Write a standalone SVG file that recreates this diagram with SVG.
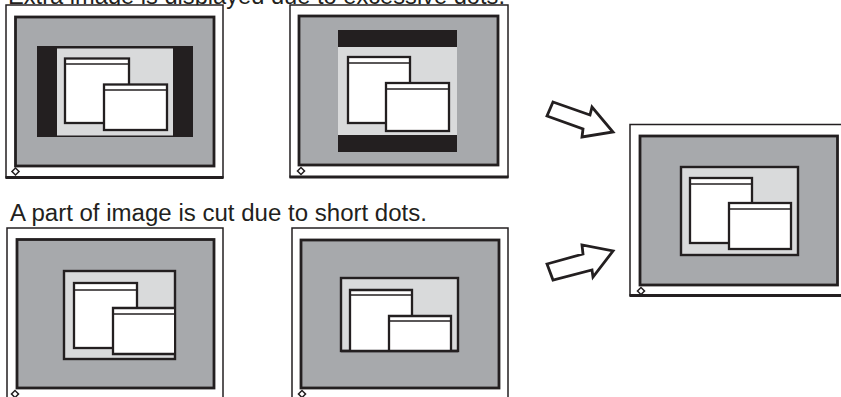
<svg xmlns="http://www.w3.org/2000/svg" width="841" height="397" viewBox="0 0 841 397">
<style>
.frame{fill:#fff;stroke:#231f20;stroke-width:1.5}
.base{stroke:#231f20;stroke-width:2.8;fill:none}
.bezel{fill:#a7a9ac;stroke:#231f20;stroke-width:2.8}
.bar{fill:#231f20}
.scr{fill:#d9dadb}
.scrb{fill:#d9dadb;stroke:#231f20;stroke-width:2.4}
.win{fill:#fff;stroke:#231f20;stroke-width:2.3}
.ln{stroke:#231f20;stroke-width:1.7;fill:none}
.dia{fill:#fff;stroke:#231f20;stroke-width:1.5}
.arr{fill:#fff;stroke:#231f20;stroke-width:2.8;stroke-linejoin:miter}
text{font-family:"Liberation Sans",Arial,sans-serif;font-size:23px;fill:#231f20}
</style>
<rect width="841" height="397" fill="#fff"/>
<text x="8" y="3.5" textLength="497" lengthAdjust="spacingAndGlyphs">Extra image is displayed due to excessive dots.</text>
<text x="10" y="220.5" textLength="417" lengthAdjust="spacingAndGlyphs">A part of image is cut due to short dots.</text>

<g id="monitor1">
<rect class="frame" x="6" y="5" width="217" height="172.5"/>
<line class="base" x1="5.5" y1="177.5" x2="223.5" y2="177.5"/>
<rect class="bezel" x="15.5" y="17" width="198.5" height="149"/>
<rect class="bar" x="37" y="46" width="156" height="91"/>
<rect class="scr" x="57" y="48.5" width="116" height="87"/>
<rect class="win" x="65" y="58.5" width="64" height="64.5"/>
<line class="ln" x1="65" y1="64" x2="129" y2="64"/>
<rect class="win" x="104" y="84.5" width="63" height="45.5"/>
<line class="ln" x1="104" y1="90" x2="167" y2="90"/>
<rect class="dia" x="13" y="169" width="5" height="5" transform="rotate(45 15.5 171.5)"/>
</g>

<g id="monitor2">
<rect class="frame" x="290" y="5" width="218" height="172"/>
<line class="base" x1="289.5" y1="177" x2="508.5" y2="177"/>
<rect class="bezel" x="299" y="16" width="199" height="149"/>
<rect class="bar" x="338" y="30" width="119" height="122"/>
<rect class="scr" x="338" y="47" width="119" height="88"/>
<rect class="win" x="348" y="57" width="62" height="66"/>
<line class="ln" x1="348" y1="63" x2="410" y2="63"/>
<rect class="win" x="386" y="83" width="63" height="48"/>
<line class="ln" x1="386" y1="89" x2="449" y2="89"/>
<rect class="dia" x="298.5" y="168.5" width="5" height="5" transform="rotate(45 301 171)"/>
</g>

<g id="monitor3">
<rect class="frame" x="7" y="228" width="216" height="200"/>
<rect class="bezel" x="17" y="239.5" width="197" height="148.5"/>
<rect class="scrb" x="64" y="271" width="111" height="88"/>
<rect class="win" x="74" y="283" width="63" height="65"/>
<line class="ln" x1="74" y1="290" x2="137" y2="290"/>
<rect x="113" y="308" width="61" height="46" fill="#fff"/>
<path class="win" d="M174,308 H113 V354 H174" fill="none"/>
<line class="ln" x1="113" y1="314" x2="174" y2="314"/>
<rect class="dia" x="12.5" y="391.5" width="5" height="5" transform="rotate(45 15 394)"/>
</g>

<g id="monitor4">
<rect class="frame" x="292" y="228" width="216" height="200"/>
<rect class="bezel" x="301" y="240" width="198" height="148"/>
<rect class="scrb" x="341" y="278" width="117" height="73"/>
<path class="win" d="M350,351 V290 H412 V351"/>
<line class="ln" x1="350" y1="295" x2="412" y2="295"/>
<path class="win" d="M389,351 V316 H451 V351"/>
<line class="ln" x1="389" y1="321" x2="451" y2="321"/>
<line x1="341" y1="351" x2="458" y2="351" stroke="#231f20" stroke-width="2.4"/>
<rect class="dia" x="299.5" y="391.5" width="5" height="5" transform="rotate(45 302 394)"/>
</g>

<g id="monitor5">
<rect class="frame" x="630" y="124.5" width="230" height="171"/>
<line class="base" x1="629.5" y1="295.5" x2="841" y2="295.5"/>
<rect class="bezel" x="640" y="136" width="197.5" height="149"/>
<rect class="scrb" x="681" y="167" width="117" height="88"/>
<rect class="win" x="690" y="178" width="62" height="65"/>
<line class="ln" x1="690" y1="184" x2="752" y2="184"/>
<rect class="win" x="729" y="203" width="62" height="46"/>
<line class="ln" x1="729" y1="209" x2="791" y2="209"/>
<rect class="dia" x="638.5" y="288.5" width="5" height="5" transform="rotate(45 641 291)"/>
</g>

<g id="connectors">
<polygon class="arr" points="553,102 590,115 592,107 613,132 582,137 583,129 547,116"/>
<polygon class="arr" points="547,264 583,254 582,245 613,251 593,277 592,270 553,280"/>
</g>
</svg>
